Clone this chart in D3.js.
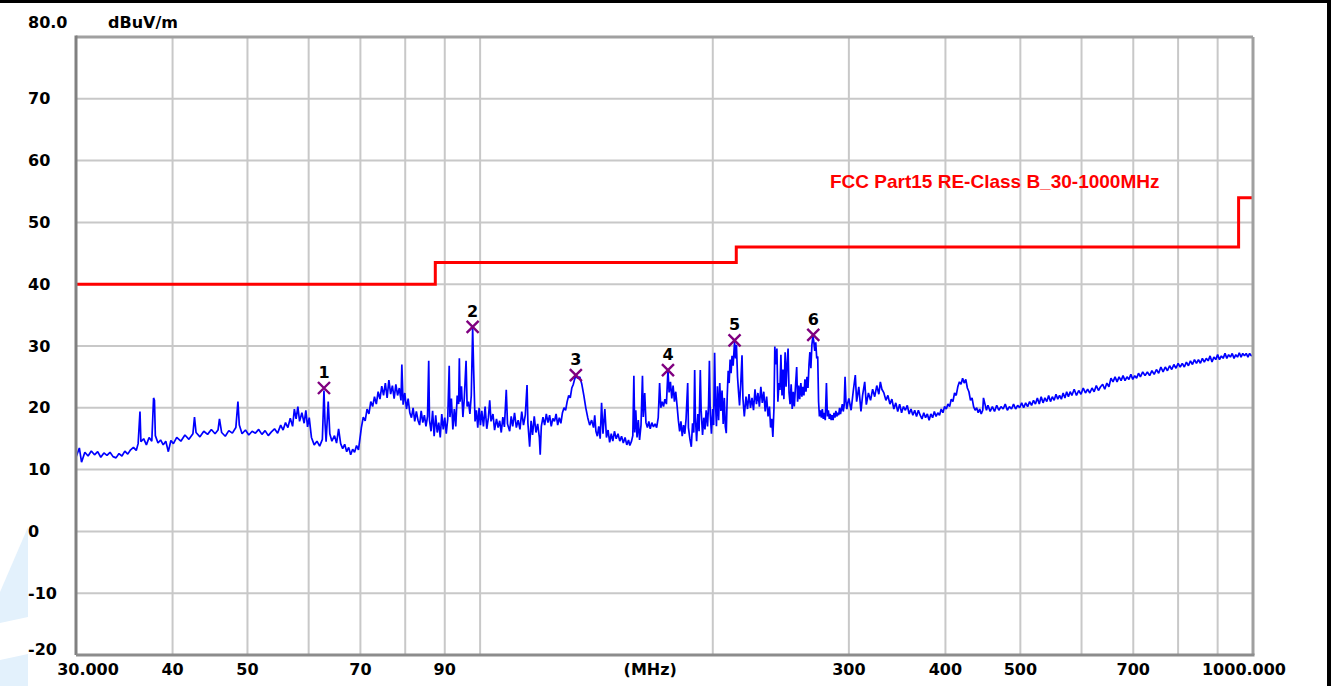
<!DOCTYPE html>
<html>
<head>
<meta charset="utf-8">
<script src="https://cdn.jsdelivr.net/npm/d3@7/dist/d3.min.js"></script>
<style>
  body { margin: 0; background: #ffffff; }
  svg { display: block; }
  text { font-family: "DejaVu Sans", sans-serif; font-weight: bold; }
</style>
</head>
<body>
<svg id="chart"></svg>
<script>
// axis ticks
var yTicks = [80, 70, 60, 50, 40, 30, 20, 10, 0, -10, -20]
var yTickLabels = ["80.0", "70", "60", "50", "40", "30", "20", "10", "0", "-10", "-20"]
var xGrid = [40, 50, 60, 70, 80, 90, 100, 200, 300, 400, 500, 600, 700, 800, 900]
var xTickValues = [30, 40, 50, 70, 90, 300, 400, 500, 700, 1000]
var xTickLabels = ["30.000", "40", "50", "70", "90", "300", "400", "500", "700", "1000.000"]

// FCC Part15 class B limit as drawn (MHz, dBuV/m)
var limitFreq = [30, 87.5, 87.5, 214.5, 214.5, 958, 958, 1000]
var limitLevel = [40, 40, 43.5, 43.5, 46, 46, 54, 54]

// peak markers
var markerId = ["1", "2", "3", "4", "5", "6"]
var markerFreq = [62.8, 97.8, 133.0, 175.0, 213.4, 269.8]
var markerLevel = [23.2, 33.1, 25.3, 26.1, 30.9, 31.8]

// measured trace [MHz, dBuV/m]
var traceData = [
  [30.0,12.0],[30.3,13.5],[30.5,11.2],[30.8,12.8],[31.1,12.2],[31.4,13.0],[31.7,12.4],[32.0,12.9],
  [32.3,12.0],[32.6,12.7],[32.9,12.3],[33.2,12.8],[33.5,12.1],[33.8,11.9],[34.1,12.6],[34.4,12.2],
  [34.7,13.0],[35.0,12.5],[35.3,13.2],[35.6,13.6],[35.9,13.1],[36.1,14.2],[36.3,19.4],[36.4,14.5],
  [36.7,15.0],[37.0,14.0],[37.3,15.2],[37.6,14.6],[37.8,21.6],[37.9,21.2],[38.0,15.5],[38.3,14.3],
  [38.6,14.8],[38.9,14.0],[39.2,14.6],[39.5,12.9],[39.8,14.7],[40.1,14.2],
  [40.5,15.2],[41.0,14.6],[41.5,15.6],[42.0,14.9],[42.5,15.8],[42.7,18.5],[42.9,16.0],[43.4,15.3],
  [43.9,16.2],[44.4,15.7],[44.9,16.5],[45.4,15.8],[45.8,16.4],[46.0,18.2],[46.3,16.0],[46.8,15.4],
  [47.3,16.3],[47.8,15.9],[48.3,16.8],[48.6,21.0],[48.8,17.2],[49.2,15.8],[49.7,16.4],[50.2,15.6],
  [50.7,16.2],[51.2,15.9],[51.7,16.5],[52.2,15.7],[52.7,16.3],[53.2,15.5],[53.7,16.1],[54.2,16.6],
  [54.7,15.9],[55.2,17.2],[55.6,16.4],[56.0,17.6],[56.4,16.8],[56.8,18.3],[57.2,17.0],[57.5,19.8],
  [57.8,18.2],[58.1,20.2],[58.4,17.8],[58.8,19.2],[59.2,17.5],[59.5,19.6],[59.8,16.9],[60.1,18.4],
  [60.5,15.2],[61.0,14.0],[61.5,14.6],[62.0,13.8],[62.5,14.9],[62.8,22.8],[63.0,17.5],[63.2,14.5],
  [63.6,21.0],[63.9,15.8],[64.3,14.6],[64.8,15.5],[65.2,14.3],[65.6,16.6],[66.0,14.2],[66.4,13.4],
  [66.8,14.1],[67.2,12.9],[67.6,13.6],[68.0,12.4],[68.4,13.3],[68.8,12.8],[69.2,13.9],[69.6,13.2],
  [70.2,16.8],[70.6,18.5],[71.0,17.9],[71.4,19.8],[71.8,19.0],[72.2,21.0],[72.6,20.2],[73.0,21.8],
  [73.4,20.6],[73.8,22.6],[74.2,21.4],[74.6,23.5],[75.0,22.0],[75.4,24.0],[75.8,21.6],[76.2,24.5],
  [76.6,22.2],[77.0,23.6],[77.4,21.5],[77.8,23.8],[78.2,22.0],[78.6,23.2],[79.0,21.2],[79.2,27.0],
  [79.5,20.5],[79.9,22.4],[80.3,19.8],[80.7,21.5],[81.1,19.2],[81.5,18.4],[81.9,20.0],[82.3,17.8],
  [82.7,19.4],[83.1,18.0],[83.5,17.2],[83.9,19.5],[84.3,17.6],[84.7,18.8],[85.1,17.0],[85.5,18.6],
  [85.8,27.6],[86.0,18.0],[86.4,16.2],[86.8,19.5],[87.2,15.4],[87.6,18.8],[88.0,16.0],[88.4,17.6],
  [88.8,15.2],[89.2,19.0],[89.6,16.5],[90.0,18.4],[90.4,15.8],[90.8,18.2],[91.2,26.8],[91.4,18.5],
  [91.8,21.5],[92.2,16.5],[92.6,19.8],[93.0,17.0],[93.4,22.0],[93.8,20.6],[94.0,28.0],[94.2,21.0],
  [94.6,23.5],[95.0,18.5],[95.4,21.6],[95.9,27.6],[96.2,20.2],[96.6,21.0],[97.0,19.0],[97.4,22.0],
  [97.8,32.9],[98.1,26.0],[98.5,17.8],[98.9,19.6],[99.3,16.8],[99.7,20.0],[100.1,17.2],
  [100.5,19.5],[101.0,17.0],[101.5,20.2],[102.0,16.6],[102.5,18.4],[102.9,21.2],[103.3,17.8],[103.9,19.0],
  [104.4,16.4],[105.0,18.2],[105.5,16.8],[106.0,17.9],[106.5,16.0],[107.0,18.5],[107.5,16.9],[108.1,22.9],
  [108.5,17.4],[109.2,16.2],[109.7,18.6],[110.2,17.0],[110.8,19.2],[111.4,16.8],[112.0,18.0],[112.6,16.5],
  [113.2,19.4],[113.8,17.2],[114.4,18.8],[115.0,23.7],[115.3,17.5],[115.9,13.7],[116.4,17.9],[116.9,15.6],
  [117.5,18.6],[118.1,16.0],[118.7,17.4],[119.3,15.2],[119.6,12.4],[120.0,17.0],[120.6,18.5],[121.2,17.2],
  [121.8,19.0],[122.4,17.6],[123.0,18.8],[123.6,17.0],[124.2,18.3],[124.8,17.8],[125.4,19.0],[126.0,17.2],
  [126.6,18.4],[127.2,17.5],[127.8,19.2],[128.4,20.0],[129.0,19.6],[129.6,21.0],[130.2,22.0],[130.8,21.6],
  [131.4,23.2],[132.0,23.8],[132.5,24.6],[133.0,25.2],
  [133.6,24.8],[134.6,25.0],[135.4,23.8],[136.2,22.0],[137.0,20.0],[137.8,18.4],[138.6,17.2],[139.4,18.0],
  [140.2,16.8],[140.7,18.8],[141.2,16.2],[141.8,15.4],[142.4,17.0],[143.0,15.0],[143.6,20.8],[144.2,15.8],
  [145.0,19.8],[145.7,15.2],[146.4,16.4],[147.1,14.4],[147.8,15.8],[148.5,14.6],[149.2,16.2],[150.0,15.0],
  [150.8,15.8],[151.6,14.6],[152.4,15.4],[153.2,14.3],[154.0,15.2],[154.8,14.0],[155.6,14.8],[156.2,13.9],
  [157.0,14.6],[157.6,15.5],[158.1,25.2],[158.5,16.0],[159.0,19.6],[159.6,15.2],[160.2,18.0],[160.8,14.8],
  [161.5,17.2],[162.2,25.2],[162.6,18.5],[163.3,22.4],[163.9,17.6],[164.6,16.8],[165.3,17.8],[166.0,16.6],
  [166.8,17.6],[167.6,16.9],[168.4,17.4],[169.2,16.8],[170.0,18.4],[170.7,24.0],[171.3,20.0],[172.0,21.0],
  [172.7,20.2],[173.4,21.4],[174.2,20.6],[175.0,26.1],[175.6,22.5],[176.3,24.2],[177.0,21.5],[177.7,23.6],
  [178.4,21.0],[179.1,22.6],[179.8,20.4],[180.5,18.0],[181.2,16.2],[181.9,17.8],[182.6,15.4],[183.3,17.2],
  [184.0,15.8],[184.7,18.2],[185.6,24.0],[186.0,16.8],[186.8,15.0],[187.6,13.7],[188.3,17.5],[189.0,16.0],
  [189.5,26.1],[189.9,18.5],[190.6,14.6],[191.3,19.0],[192.0,16.2],[192.7,26.1],[193.2,19.5],[194.0,15.6],
  [194.7,18.4],[195.4,16.5],[196.1,19.6],[196.9,17.0],[197.5,20.5],[198.0,27.6],[198.5,19.0],[199.2,15.8],
  [199.9,19.8],[200.5,17.2],[201.1,28.9],[201.6,21.0],[202.2,17.0],[202.8,23.5],[203.5,18.0],[204.2,24.0],
  [204.9,19.5],[205.6,22.8],[206.3,17.4],[207.0,21.6],[207.6,17.0],[208.2,15.9],[208.8,22.0],[209.4,26.0],
  [210.0,24.0],[210.6,27.8],[211.2,25.6],[211.8,28.4],[212.5,26.8],[213.4,30.7],[214.0,28.0],[214.6,30.2],
  [215.3,25.0],[216.0,22.4],[216.6,20.4],[217.4,24.0],[218.2,28.5],[218.8,21.5],[219.7,18.6],
  [220.8,21.8],[221.8,19.8],[222.8,22.2],[223.8,20.0],[224.8,21.6],[225.8,19.6],[226.8,23.0],[227.8,20.6],
  [228.8,22.4],[229.8,20.2],[230.8,23.4],[231.8,20.8],[232.8,22.6],[233.8,19.4],[234.8,21.8],[235.8,18.6],
  [236.8,20.2],[237.6,16.8],[238.4,18.2],[239.2,15.3],[240.0,20.0],[240.6,29.9],[241.2,27.0],[242.1,29.6],
  [242.8,21.0],[243.6,24.0],[244.3,22.9],[245.0,28.6],[245.8,22.0],[246.5,26.2],[247.2,21.4],[248.1,29.0],
  [248.8,23.4],[249.6,27.2],[250.3,29.6],[251.0,22.5],[251.8,20.6],[252.6,23.8],[253.4,19.8],[254.2,22.6],
  [255.0,20.2],[255.8,23.2],[256.8,26.6],[257.5,21.0],[258.3,23.6],[259.1,21.4],[260.0,24.0],[260.8,21.8],
  [261.6,23.4],[262.4,22.0],[263.2,24.6],[264.0,22.6],[264.8,25.0],[265.6,23.2],[266.4,27.0],[267.1,29.0],
  [267.9,26.4],[268.7,30.2],[269.5,31.6],[270.2,30.8],[271.0,29.2],[271.8,30.6],[272.6,28.0],[273.4,28.3],
  [274.1,21.0],[274.8,18.6],[275.6,19.6],[276.4,18.4],[277.2,19.8],[278.0,18.2],[278.8,19.2],[279.6,18.0],
  [280.6,24.0],[281.4,18.6],[282.2,19.6],[283.0,18.2],[283.8,19.0],[284.6,18.0],[285.4,18.8],[286.2,18.0],
  [287.0,19.2],[287.8,18.4],[288.6,19.5],[289.4,18.6],[290.2,19.2],[291.0,18.8],[291.8,20.0],[292.6,19.0],
  [293.4,19.8],[294.2,20.6],[295.0,19.4],[295.8,20.4],[296.6,25.0],[297.4,21.0],[298.2,19.8],[299.0,20.8],
  [300,21.5],[302,19.6],[304,22.8],[305.8,25.3],[307,21.0],[309,23.4],[311,19.4],[312.5,22.0],
  [314.5,24.2],[316,20.5],[318,22.4],[320,21.2],[322,23.0],[324,21.8],[326,23.6],[328,22.2],
  [329.5,24.2],[331,23.0],[333,22.4],[335,21.2],[337,22.0],[339,20.6],[341,21.4],[343,19.8],
  [345,20.8],[347,19.4],[349,20.6],[351,19.2],[353,20.2],[355,19.6],[357,20.4],[359,19.0],
  [361,19.8],[363,18.8],[365,19.6],[367,18.6],[369,19.6],[371,18.8],[373,18.2],[375,19.2],
  [377,18.4],[379,19.0],[381,18.0],[383,19.0],[385,18.4],[387,19.4],[389,18.6],[391,19.2],
  [393,18.8],[395,19.8],[397,19.2],[399,20.2],[401,19.8],[403,20.6],[405,20.2],[407,21.4],
  [409,21.0],[411,22.4],[413,22.0],[415,23.4],[417,24.2],[419,23.8],[421,24.8],[423,24.0],
  [425,24.6],[427,23.2],[429,22.6],[431,21.2],[433,21.6],[435,20.2],[437,19.6],[439,20.0],
  [441,19.2],[443,19.8],[445,19.0],[447,19.6],[448,21.6],[450,20.6],[452,19.6],[454,20.4],
  [457,19.4],[460,20.2],[463,19.4],[466,20.4],[469,19.6],[472,20.2],[475,19.8],[478,20.6],
  [481,19.6],[484,20.2],[487,19.8],[490,20.6],[493,19.8],[496,20.4],[499,20.0],[502,20.8],
  [505,20.0],[508,20.8],[511,20.2],[514,21.0],[517,20.4],[520,21.2],[523,20.6],[526,21.6],
  [529,20.6],[532,21.8],[535,20.8],[538,21.6],[541,21.0],[544,22.0],[547,21.0],[550,21.8],
  [553,21.2],[556,22.2],[559,21.4],[562,22.0],[565,21.4],[568,22.4],[571,21.6],[574,22.6],
  [577,21.8],[580,22.6],[583,22.0],[587,23.0],[591,22.0],[595,22.8],[599,22.2],[603,23.2],
  [607,22.4],[611,23.0],[615,22.4],[619,23.2],[623,22.6],[627,23.6],[631,22.8],[635,23.4],
  [639,23.8],[643,23.0],[647,24.0],[651,23.4],[655,24.8],[659,24.2],[663,25.0],[667,24.2],
  [671,25.0],[675,24.4],[679,25.2],[683,24.4],[687,25.0],[691,24.6],[695,25.4],[699,24.6],
  [703,25.2],[707,24.8],[711,25.6],[715,25.0],[720,25.8],[725,25.2],[730,25.8],[735,25.2],
  [740,26.0],[745,25.4],[750,26.2],[755,25.6],[760,26.6],[765,25.8],[770,26.6],[775,26.0],
  [780,26.8],[785,26.2],[790,27.0],[795,26.4],[800,27.2],[805,26.6],[810,27.2],[815,26.6],
  [820,27.4],[825,26.8],[830,27.6],[835,27.0],[840,27.8],[845,27.2],[850,27.8],[855,27.2],
  [860,28.0],[865,27.4],[870,28.0],[875,27.6],[880,28.4],[885,27.4],[890,28.2],[895,27.8],
  [900,28.6],[905,27.8],[910,28.4],[915,28.0],[920,28.8],[925,28.0],[930,28.6],[935,28.2],
  [940,28.8],[945,28.0],[950,28.6],[955,28.2],[960,28.9],[965,28.2],[970,28.8],[975,28.4],
  [980,28.8],[985,28.2],[990,28.8],[995,28.4],[1000,28.6]
]

var dimensions = {
  width: 1333,
  height: 686,
  margin: { top: 37, bottom: 31, left: 76, right: 80 }
}
dimensions.boundedWidth = dimensions.width - dimensions.margin.left - dimensions.margin.right
dimensions.boundedHeight = dimensions.height - dimensions.margin.top - dimensions.margin.bottom

var xScale = d3.scaleLog()
  .domain([30, 1000])
  .range([0, dimensions.boundedWidth])

var yScale = d3.scaleLinear()
  .domain([-20, 80])
  .range([dimensions.boundedHeight, 0])

var svg = d3.select("#chart")
  .attr("width", dimensions.width)
  .attr("height", dimensions.height)

// faint watermark shapes on the left edge
svg.append("polygon")
  .attr("points", "28,527 28,617 0,623 0,592")
  .attr("fill", "#e3f1fc")
svg.append("polygon")
  .attr("points", "0,660 28,654 28,686 0,686")
  .attr("fill", "#e3f1fc")

// outer frame (top and right)
svg.append("rect").attr("x", 0).attr("y", 0).attr("width", 1331).attr("height", 3).attr("fill", "#000")
svg.append("rect").attr("x", 1327).attr("y", 0).attr("width", 4).attr("height", dimensions.height).attr("fill", "#000")

var bounds = svg.append("g")
  .attr("transform", "translate(" + dimensions.margin.left + "," + dimensions.margin.top + ")")

// grid
bounds.selectAll(".hgrid")
  .data(yTicks.filter(d => d > -20 && d < 80))
  .enter()
  .append("line")
  .attr("class", "hgrid")
  .attr("x1", 0)
  .attr("x2", dimensions.boundedWidth)
  .attr("y1", d => yScale(d))
  .attr("y2", d => yScale(d))
  .attr("stroke", "#c8c8c8")
  .attr("stroke-width", 2)

bounds.selectAll(".vgrid")
  .data(xGrid)
  .enter()
  .append("line")
  .attr("class", "vgrid")
  .attr("x1", d => xScale(d))
  .attr("x2", d => xScale(d))
  .attr("y1", 0)
  .attr("y2", dimensions.boundedHeight)
  .attr("stroke", "#c8c8c8")
  .attr("stroke-width", 2)

// limit line
var limitPoints = limitFreq.map((f, i) => [f, limitLevel[i]])
bounds.append("path")
  .datum(limitPoints)
  .attr("fill", "none")
  .attr("stroke", "#ff0000")
  .attr("stroke-width", 3)
  .attr("d", d3.line()
    .x(d => xScale(d[0]))
    .y(d => yScale(d[1])))

// trace
bounds.append("path")
  .datum(traceData)
  .attr("fill", "none")
  .attr("stroke", "#0000ff")
  .attr("stroke-width", 1.7)
  .attr("stroke-linejoin", "bevel")
  .attr("d", d3.line()
    .x(d => xScale(d[0]))
    .y(d => yScale(d[1])))

// plot border
bounds.append("line")
  .attr("x1", 0).attr("x2", dimensions.boundedWidth)
  .attr("y1", 0).attr("y2", 0)
  .attr("stroke", "#a0a0a0").attr("stroke-width", 3)
bounds.append("line")
  .attr("x1", dimensions.boundedWidth).attr("x2", dimensions.boundedWidth)
  .attr("y1", 0).attr("y2", dimensions.boundedHeight)
  .attr("stroke", "#a0a0a0").attr("stroke-width", 3)
bounds.append("line")
  .attr("x1", 0).attr("x2", 0)
  .attr("y1", -1.5).attr("y2", dimensions.boundedHeight)
  .attr("stroke", "#808080").attr("stroke-width", 3)
bounds.append("line")
  .attr("x1", 0).attr("x2", dimensions.boundedWidth + 1.5)
  .attr("y1", dimensions.boundedHeight).attr("y2", dimensions.boundedHeight)
  .attr("stroke", "#8c8c8c").attr("stroke-width", 3)

// markers
var markers = bounds.selectAll(".marker")
  .data(markerFreq.map((f, i) => ({ id: markerId[i], f: f, v: markerLevel[i] })))
  .enter()
  .append("g")
  .attr("class", "marker")
  .attr("transform", d => "translate(" + xScale(d.f) + "," + yScale(d.v) + ")")

markers.append("path")
  .attr("d", "M-6,-6L6,6M-6,6L6,-6")
  .attr("stroke", "#800080")
  .attr("stroke-width", 2.4)
  .attr("fill", "none")

markers.append("text")
  .attr("y", -10)
  .attr("text-anchor", "middle")
  .style("font-size", "16px")
  .attr("fill", "#000")
  .text(d => d.id)

// y tick labels
var yOffsets = { "80": -9, "-20": 0 }
svg.selectAll(".ylabel")
  .data(yTicks)
  .enter()
  .append("text")
  .attr("class", "ylabel")
  .attr("x", 28)
  .attr("y", d => dimensions.margin.top + yScale(d) + (yOffsets[d] !== undefined ? yOffsets[d] : 5.5))
  .style("font-size", "16px")
  .attr("fill", "#000")
  .text((d, i) => yTickLabels[i])

svg.append("text")
  .attr("x", 108)
  .attr("y", 28)
  .style("font-size", "16px")
  .attr("fill", "#000")
  .text("dBuV/m")

// x tick labels
svg.selectAll(".xlabel")
  .data(xTickValues)
  .enter()
  .append("text")
  .attr("class", "xlabel")
  .attr("x", (d, i) => dimensions.margin.left + xScale(d) + (i === 0 ? 12 : (i === xTickValues.length - 1 ? -9 : 0)))
  .attr("y", 675)
  .attr("text-anchor", "middle")
  .style("font-size", "16px")
  .attr("fill", "#000")
  .text((d, i) => xTickLabels[i])

svg.append("text")
  .attr("x", dimensions.margin.left + xScale(166))
  .attr("y", 675)
  .attr("text-anchor", "middle")
  .style("font-size", "16px")
  .attr("fill", "#000")
  .text("(MHz)")

// legend
svg.append("text")
  .attr("x", 830)
  .attr("y", 188)
  .style("font-family", "'Liberation Sans', Arial, sans-serif")
  .style("font-size", "19px")
  .attr("fill", "#ff0000")
  .text("FCC Part15 RE-Class B_30-1000MHz")
</script>
</body>
</html>
